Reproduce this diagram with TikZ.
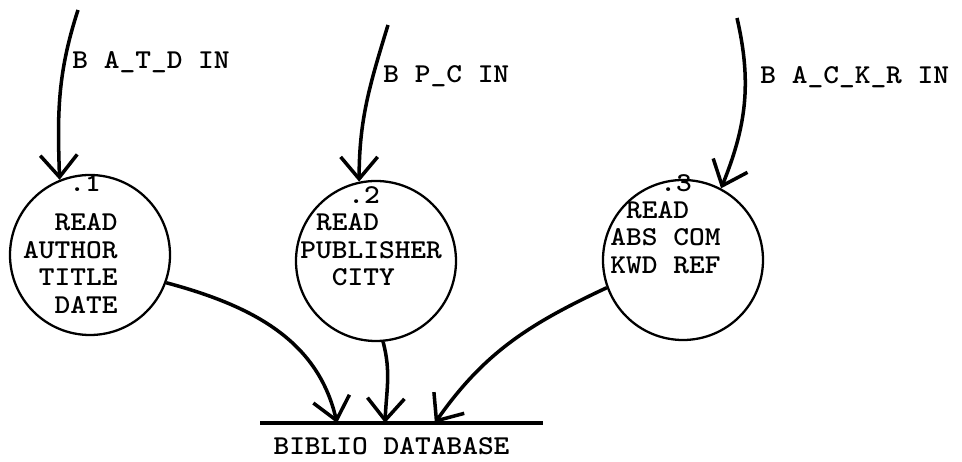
\documentclass[tikz,border=0pt]{standalone}
\usetikzlibrary{arrows.meta,calc}
\def\BubbleSize{3.2cm}
\def\FlowWidth{2pt}
\tikzset{
  bubble/.style={draw, circle, line width=1.3pt, minimum size=\BubbleSize, inner sep=0pt},
  typed/.style={font=\fontsize{15.5}{15.7}\selectfont\ttfamily\bfseries, xscale=1.1, inner sep=0pt},
  flow/.style={line width=\FlowWidth, -{Straight Barb[length=4.4mm,width=7.4mm]}},
}

\begin{document}
\begin{tikzpicture}
  \path[use as bounding box, fill=white] (0,0) rectangle (19.24,9.24);
  % the three read processes
  \node[bubble] (p1) at (1.8,4.14) {};
  \node[bubble] (p2) at (7.52,4.02) {};
  \node[bubble] (p3) at (13.66,4.04) {};
  \node[typed] (n1) at (1.7,5.58) {.1};
  \node[typed] (n2) at (7.28,5.34) {.2};
  \node[typed] (n3) at (13.52,5.58) {.3};
  \node[typed, anchor=east, align=right] (t1) at (2.36,3.97) {READ\\AUTHOR\\TITLE\\DATE};
  \node[typed, anchor=west, align=left] (t2) at (6.0,4.24) {\phantom{X}READ\\PUBLISHER\\\phantom{XX}CITY};
  \node[typed, anchor=west, align=left] (t3) at (12.2,4.49) {\phantom{X}READ\\ABS COM\\KWD REF};
  % incoming flows
  \coordinate (s1) at (1.56,9.04);
  \coordinate (s2) at (7.76,8.74);
  \coordinate (s3) at (14.74,8.88);
  \draw[flow] (s1) to[out=-108,in=92] (p1.112);
  \draw[flow] (s2) to[out=-107,in=90] (p2.102);
  \draw[flow] (s3) to[out=-77,in=68] (p3.62);
  \node[typed, anchor=west] (l1) at (1.44,8.00) {B A\_T\_D IN};
  \node[typed, anchor=west] (l2) at (7.66,7.72) {B P\_C IN};
  \node[typed, anchor=west] (l3) at (15.2,7.70) {B A\_C\_K\_R IN};
  % data store
  \coordinate (dl) at (5.2,0.78);
  \coordinate (dr) at (10.86,0.78);
  \draw[line width=\FlowWidth] (dl) -- (dr);
  \node[typed] (db) at (7.83,0.32) {BIBLIO DATABASE};
  \coordinate (d1) at ($(dl)!0.272!(dr)$);
  \coordinate (d2) at ($(dl)!0.442!(dr)$);
  \coordinate (d3) at ($(dl)!0.618!(dr)$);
  % outgoing flows
  \draw[flow] (p1.-20) to[out=-15,in=103] (d1);
  \draw[flow] (p2.-85) to[out=-75,in=88] (d2);
  \draw[flow] (p3.200) to[out=205,in=55] (d3);
\end{tikzpicture}
\end{document}
